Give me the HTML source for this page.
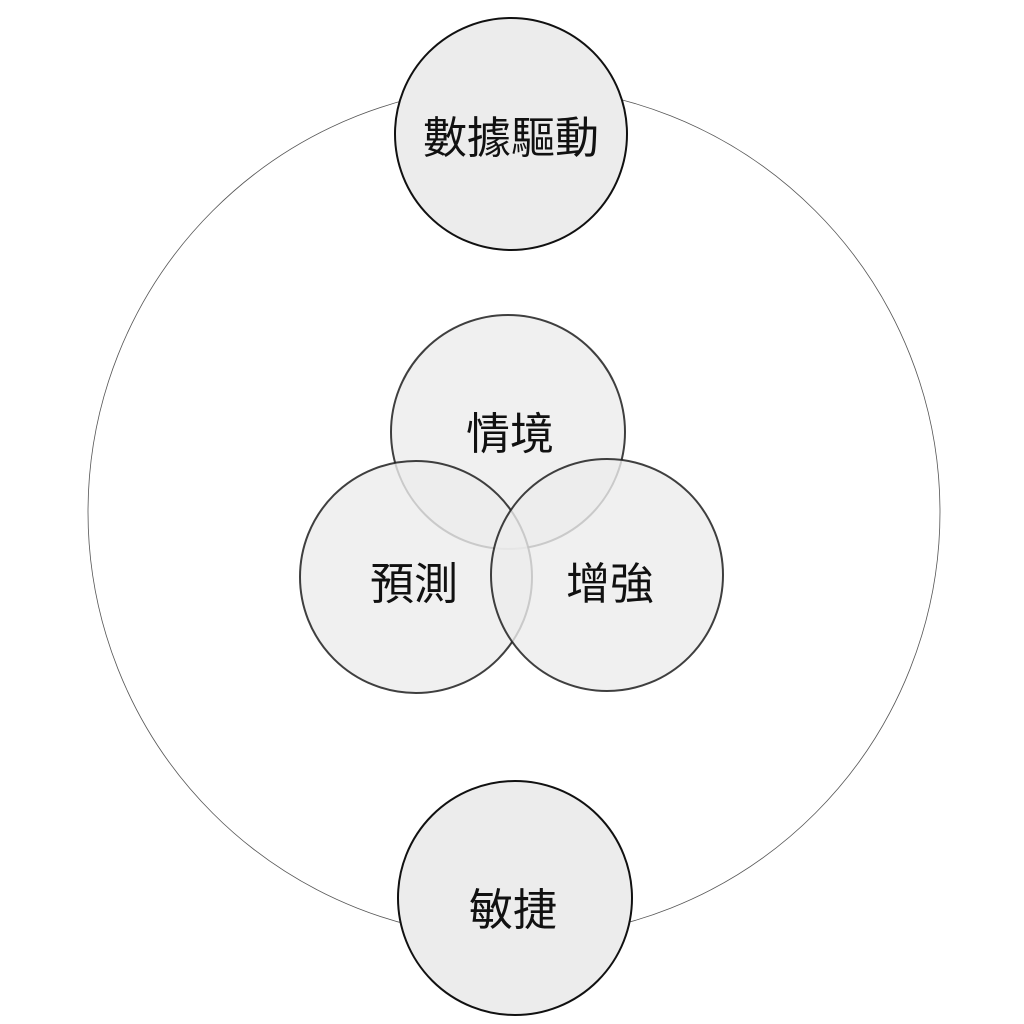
<!DOCTYPE html>
<html><head><meta charset="utf-8"><style>
html,body{margin:0;padding:0;background:#fff;}
svg{display:block;}
text{font-family:"Noto Sans CJK TC","Liberation Sans",sans-serif;font-size:44px;font-weight:400;fill:#111;text-anchor:middle;dominant-baseline:central;}
</style></head><body>
<svg width="1024" height="1024" viewBox="0 0 1024 1024">
<circle cx="514" cy="512" r="426" fill="none" stroke="#555" stroke-width="0.8"/>
<circle cx="511" cy="134" r="116" fill="#ececec" stroke="#111" stroke-width="2"/>
<circle cx="515" cy="898" r="117" fill="#ececec" stroke="#111" stroke-width="2"/>
<g fill="rgba(236,236,236,0.8)" stroke="rgba(30,30,30,0.85)" stroke-width="2">
<circle cx="508" cy="432" r="117"/>
<circle cx="416" cy="577" r="116"/>
<circle cx="607" cy="575" r="116"/>
</g>
<text x="511" y="134">數據驅動</text>
<text x="510" y="430">情境</text>
<text x="414" y="580">預測</text>
<text x="610" y="580">增強</text>
<text x="513" y="906">敏捷</text>
</svg>
</body></html>
